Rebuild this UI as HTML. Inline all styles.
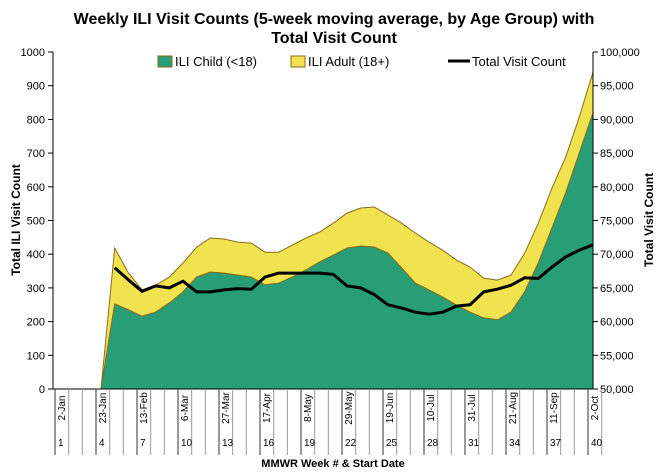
<!DOCTYPE html>
<html><head><meta charset="utf-8"><style>
body{margin:0;background:#fff;}
svg{display:block;font-family:"Liberation Sans",Arial,sans-serif;}
</style></head><body>
<svg id="chart" width="668" height="476" viewBox="0 0 668 476"></svg>
<script>
const weeks=[1,2,3,4,5,6,7,8,9,10,11,12,13,14,15,16,17,18,19,20,21,22,23,24,25,26,27,28,29,30,31,32,33,34,35,36,37,38,39,40];
const dateLabels={1:"2-Jan",4:"23-Jan",7:"13-Feb",10:"6-Mar",13:"27-Mar",16:"17-Apr",19:"8-May",22:"29-May",25:"19-Jun",28:"10-Jul",31:"31-Jul",34:"21-Aug",37:"11-Sep",40:"2-Oct"};
const childVals=[0,0,0,0,252,235,216,228,255,288,332,347,344,338,332,309,314,332,353,377,397,418,424,421,403,359,314,294,273,249,228,211,205,228,288,374,478,582,700,819];
const totalVals=[0,0,0,0,418,345,294,308,332,374,421,448,445,436,433,406,406,427,448,466,492,522,537,540,516,492,463,436,412,383,362,329,323,338,403,492,596,688,807,940];
const visitVals=[null,null,null,null,68000,66200,64500,65300,65000,66000,64400,64400,64700,64900,64800,66600,67200,67200,67200,67200,67000,65300,65000,64000,62500,62000,61400,61100,61400,62300,62500,64400,64800,65400,66500,66400,68100,69600,70600,71400];
const leftTicks=[0,100,200,300,400,500,600,700,800,900,1000];
const rightTicks=[50000,55000,60000,65000,70000,75000,80000,85000,90000,95000,100000];

const NS="http://www.w3.org/2000/svg";
const svg=document.getElementById('chart');
const L=53,R=593,T=52,B=389;
const X0=60;
const step=(R-X0)/(weeks.length-1);
const xs=i=>X0+step*i;
const yL=v=>B-(v/1000)*(B-T);
const yR=v=>B-((v-50000)/50000)*(B-T);
function el(tag,attrs,txt){const e=document.createElementNS(NS,tag);for(const k in attrs)e.setAttribute(k,attrs[k]);if(txt!=null)e.textContent=txt;svg.appendChild(e);return e;}

let t=el('text',{x:334,y:24,'text-anchor':'middle','font-size':16,'font-weight':'bold'},"Weekly ILI Visit Counts (5-week moving average, by Age Group) with");


t=el('text',{x:334,y:43,'text-anchor':'middle','font-size':16,'font-weight':'bold'},"Total Visit Count");



function areaPath(topArr,botArr){let d='';topArr.forEach((v,i)=>{d+=(i?'L':'M')+xs(i).toFixed(1)+','+yL(v).toFixed(1);});for(let i=botArr.length-1;i>=0;i--){d+='L'+xs(i).toFixed(1)+','+yL(botArr[i]).toFixed(1);}return d+'Z';}
const zeros=weeks.map(()=>0);
let a=el('path',{d:areaPath(totalVals,childVals),fill:'#f1e34f',stroke:'#8a6a1c','stroke-width':1});


a=el('path',{d:areaPath(childVals,zeros),fill:'#279e76',stroke:'#8a6a1c','stroke-width':1});



let d='';let started=false;
visitVals.forEach((v,i)=>{if(v==null)return;d+=(started?'L':'M')+xs(i).toFixed(1)+','+yR(v).toFixed(1);started=true;});
let ln=el('path',{d:d,fill:'none',stroke:'#000','stroke-width':3,'stroke-linejoin':'round'});



el('line',{x1:L,y1:T,x2:L,y2:B,stroke:'#000','stroke-width':1});
el('line',{x1:R,y1:T,x2:R,y2:B,stroke:'#000','stroke-width':1});
el('line',{x1:L,y1:B,x2:R,y2:B,stroke:'#000','stroke-width':1});
leftTicks.forEach(v=>{const y=yL(v);el('line',{x1:L-5,y1:y,x2:L,y2:y,stroke:'#000'});
 const tx=el('text',{x:L-8,y:y+4,'text-anchor':'end','font-size':11},String(v));
 
 });
rightTicks.forEach(v=>{const y=yR(v);el('line',{x1:R,y1:y,x2:R+5,y2:y,stroke:'#000'});
 const tx=el('text',{x:R+7,y:y+4,'font-size':11},v.toLocaleString('en-US'));
 
 });

for(let i=0;i<=weeks.length;i++){const x=xs(i)-5;el('line',{x1:x,y1:B,x2:x,y2:455,stroke:(i%3===0)?'#333':'#999','stroke-width':1});}
weeks.forEach((w,i)=>{if(dateLabels[w]){const x=xs(i)+5;
 const tx=el('text',{x:x,y:408,'text-anchor':'middle','font-size':10,transform:'rotate(-90 '+x+' 408)'},dateLabels[w]);
 
 
 const tn=el('text',{x:xs(i)-2,y:446,'font-size':10},String(w));
 
 }});

t=el('text',{x:333,y:467,'text-anchor':'middle','font-size':11,'font-weight':'bold'},"MMWR Week # & Start Date");


t=el('text',{x:20,y:220,'text-anchor':'middle','font-size':12,'font-weight':'bold',transform:'rotate(-90 20 220)'},"Total ILI Visit Count");


t=el('text',{x:653,y:220,'text-anchor':'middle','font-size':12,'font-weight':'bold',transform:'rotate(-90 653 220)'},"Total Visit Count");



let g=el('rect',{x:158,y:56,width:14,height:11,fill:'#279e76',stroke:'#8a6a1c'});


g=el('text',{x:175,y:66,'font-size':13},"ILI Child (<18)");


g=el('rect',{x:291,y:56,width:14,height:11,fill:'#f1e34f',stroke:'#8a6a1c'});


g=el('text',{x:308,y:66,'font-size':13},"ILI Adult (18+)");


g=el('line',{x1:448,y1:61,x2:470,y2:61,stroke:'#000','stroke-width':3});


g=el('text',{x:472,y:66,'font-size':13},"Total Visit Count");


</script>
</body></html>
